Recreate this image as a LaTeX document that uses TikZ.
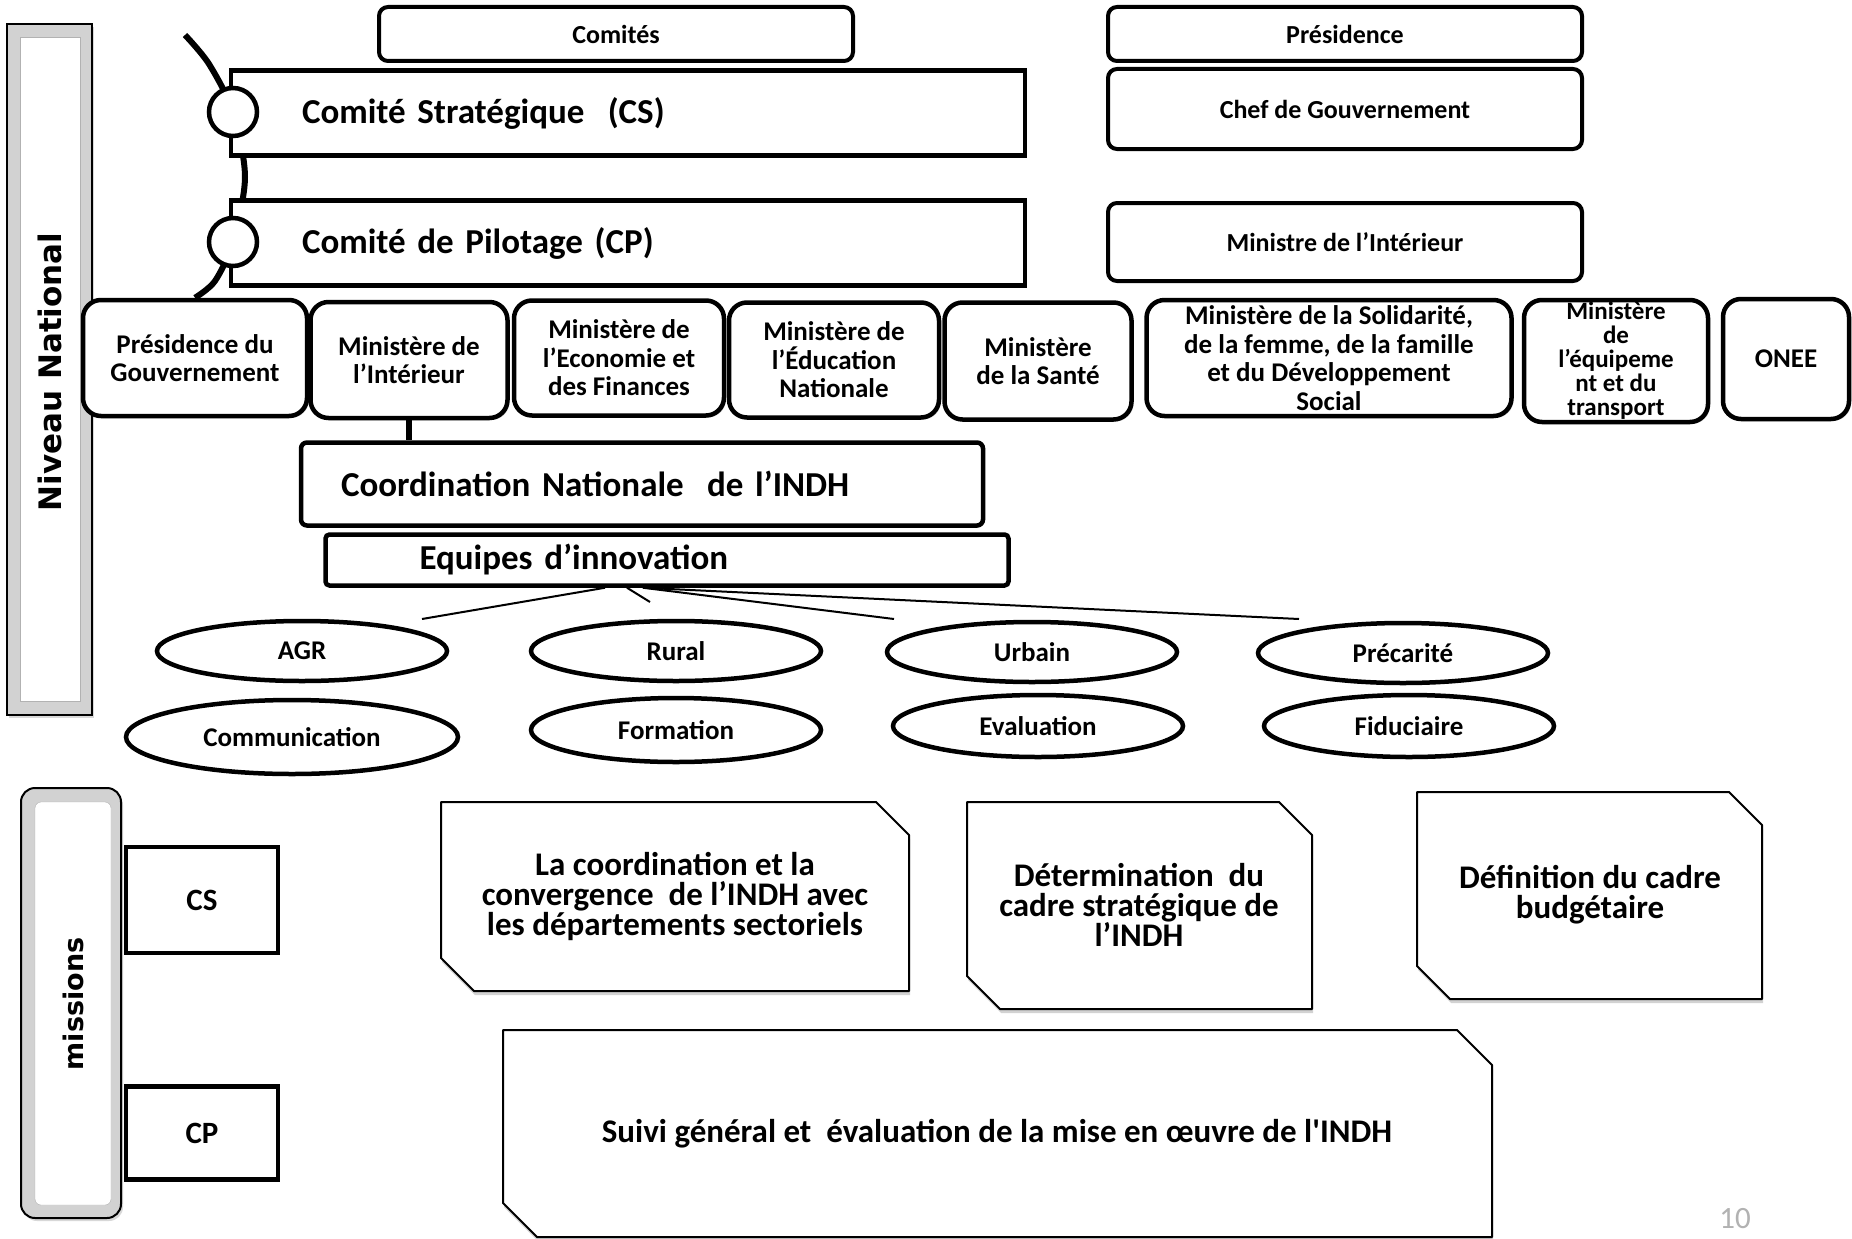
\documentclass[tikz,border=0pt]{standalone}
\usepackage{fontspec}
\setmainfont{Carlito}
\newfontfamily\vertfont{DejaVu Sans}
\usetikzlibrary{shapes.geometric,shadows}

\tikzset{
  topbox/.style={draw, line width=4pt, rounded corners=9pt, fill=white, minimum width=474pt, font=\fontsize{26}{30}\selectfont\bfseries},
  combox/.style={draw, line width=4.5pt, fill=white, minimum height=85pt, text width=652pt, inner xsep=71pt, align=left, font=\fontsize{35}{40}\selectfont\bfseries},
  ring/.style={circle, draw, line width=4.5pt, fill=white, minimum size=48pt, inner sep=0pt},
  minbox/.style={draw, line width=4.5pt, rounded corners=18pt, fill=white, align=center, inner sep=0pt, font=\fontsize{27}{28.5}\selectfont\bfseries, drop shadow={shadow xshift=2pt, shadow yshift=-2pt, opacity=0.3}},
  team/.style={ellipse, draw, line width=4.5pt, fill=white, inner sep=0pt, minimum width=290pt, minimum height=60pt, font=\fontsize{27}{30}\selectfont\bfseries},
  code/.style={draw, line width=4.5pt, fill=white, minimum width=152pt, font=\fontsize{31}{36}\selectfont\bfseries},
  mission/.style={draw, line width=2pt, fill=white, line join=round, drop shadow={shadow xshift=1pt, shadow yshift=-4pt, opacity=0.35}},
  missiontext/.style={align=center, font=\fontsize{33}{30}\selectfont\bfseries},
  vtitle/.style={rotate=90, font=\vertfont\bfseries\fontsize{31}{36}\selectfont},
  bevel/.style={line width=2pt, fill=gray!35, drop shadow={shadow xshift=2pt, shadow yshift=-3pt, opacity=0.3}},
  link/.style={line width=6pt},
  spoke/.style={line width=2pt},
}

\begin{document}
\begin{tikzpicture}[x=1pt, y=-1pt]
        \fill[white] (0,0) rectangle (1852,1239);
        \useasboundingbox (0,0) rectangle (1852,1239);
        % niveau national
        \draw[bevel] (7,24) rectangle (92,715);
        \draw[draw=gray!60, fill=white] (20,37) rectangle (80,701);
        \node[vtitle] (niveau) at (50,372) {Niveau National};
        % top boxes
        \node[topbox, minimum height=54pt] (comites) at (616,34) {Comités};
        \node[topbox, minimum height=54pt] (presidence) at (1345,34) {Présidence};
        \node[topbox, minimum height=80pt] (chef) at (1345,109) {Chef de Gouvernement};
        \node[topbox, minimum height=78pt] (ministre) at (1345,242) {Ministre de l’Intérieur};
        % ministeres
        \node[minbox, minimum width=224pt, minimum height=116pt] (presgouv) at (195,358) {Présidence du\\Gouvernement};
        \node[minbox, minimum width=197pt, minimum height=116pt] (minint) at (409,360) {Ministère de\\l’Intérieur};
        \node[minbox, minimum width=210pt, minimum height=115pt] (mineco) at (619,358) {Ministère de\\l’Economie et\\des Finances};
        \node[minbox, minimum width=210pt, minimum height=115pt] (minedu) at (834,360) {Ministère de\\l’Éducation\\Nationale};
        \node[minbox, minimum width=187pt, minimum height=117pt] (minsante) at (1038,361) {Ministère\\de la Santé};
        \node[minbox, minimum width=365pt, minimum height=116pt] (minsol) at (1329,358) {Ministère de la Solidarité,\\de la femme, de la famille\\et du Développement\\Social};
        \node[minbox, minimum width=184pt, minimum height=122pt, font=\fontsize{25}{24}\selectfont\bfseries] (minequip) at (1616,361) {Ministère\\de\\l’équipeme\\nt et du\\transport};
        \node[minbox, minimum width=126pt, minimum height=120pt] (onee) at (1786,359) {ONEE};
        % arc
        \coordinate (arctop) at (185,35);
        \coordinate (arcup) at (209,64);
        \coordinate (csc) at (233,112);
        \coordinate (arcmid) at (245,177);
        \coordinate (cpc) at (233,242);
        \coordinate (arclow) at (215,281);
        \draw[link] plot[smooth] coordinates {(arctop) (arcup) (csc) (arcmid) (cpc) (arclow) (presgouv.north)};
        \node[combox] (csbox) at (628,113) {Comité Stratégique\ \ (CS)};
        \node[combox] (cpbox) at (628,243) {Comité de Pilotage (CP)};
        \node[ring] (csring) at (csc) {};
        \node[ring] (cpring) at (cpc) {};
        % coordination
        \node[combox, rounded corners=6pt, minimum height=83pt, inner xsep=40pt, text width=602pt] (coord) at (642,484) {Coordination Nationale\ \ de l’INDH};
        \node[combox, rounded corners=4pt, minimum height=51pt, inner xsep=94pt, text width=495pt] (equipes) at (667,560) {Equipes d’innovation};
        \draw[link] (minint.south) -- (minint.south |- coord.north);
        % equipes
        \node[team] (agr) at (302,651) {AGR};
        \node[team] (rural) at (676,651) {Rural};
        \node[team] (urbain) at (1032,652) {Urbain};
        \node[team] (precarite) at (1403,653) {Précarité};
        \node[team, minimum width=332pt, minimum height=74pt] (communication) at (292,737) {Communication};
        \node[team, minimum height=64pt] (formation) at (676,730) {Formation};
        \node[team, minimum height=62pt] (evaluation) at (1038,726) {Evaluation};
        \node[team, minimum height=62pt] (fiduciaire) at (1409,726) {Fiduciaire};
        \coordinate (agrtip) at (422,619);
        \coordinate (ruraltip) at (650,602);
        \coordinate (urbaintip) at (894,619);
        \coordinate (precaritetip) at (1299,619);
        \draw[spoke] ([xshift=-62pt]equipes.south) -- (agrtip);
        \draw[spoke] ([xshift=-40pt]equipes.south) -- (ruraltip);
        \draw[spoke] ([xshift=-24pt]equipes.south) -- (urbaintip);
        \draw[spoke] ([xshift=-24pt]equipes.south) -- (precaritetip);
        % missions
        \draw[bevel, rounded corners=14pt] (21,788) rectangle (121,1218);
        \draw[rounded corners=6pt, draw=gray!60, fill=white] (35,802) rectangle (111,1205);
        \node[vtitle, font=\vertfont\bfseries\fontsize{27}{32}\selectfont] (missions) at (73,1004) {missions};
        \node[code, minimum height=106pt] (cs) at (202,900) {CS};
        \node[code, minimum height=93pt] (cp) at (202,1133) {CP};
        \draw[mission] (441,802) -- (876,802) -- (909,835) -- (909,991) -- (474,991) -- (441,958) -- cycle;
        \node[missiontext] (coordmission) at (675,896) {La coordination et la\\convergence\ \ de l’INDH avec\\les départements sectoriels};
        \draw[mission] (967,802) -- (1279,802) -- (1312,835) -- (1312,1009) -- (1000,1009) -- (967,976) -- cycle;
        \node[missiontext] (stratmission) at (1139,905) {Détermination\ \ du\\cadre stratégique de\\l’INDH};
        \draw[mission] (1417,792) -- (1729,792) -- (1762,825) -- (1762,999) -- (1450,999) -- (1417,966) -- cycle;
        \node[missiontext] (budgetmission) at (1590,895) {Définition du cadre\\budgétaire};
        \draw[mission] (503,1030) -- (1457,1030) -- (1492,1065) -- (1492,1237) -- (537,1237) -- (503,1203) -- cycle;
        \node[missiontext] (suivimission) at (997,1134) {Suivi général et\ \ évaluation de la mise en œuvre de l\textquotesingle INDH};
        \node[text=gray!60, font=\fontsize{31}{36}\selectfont] (pagenum) at (1735,1219) {10};
      \end{tikzpicture}
\end{document}
